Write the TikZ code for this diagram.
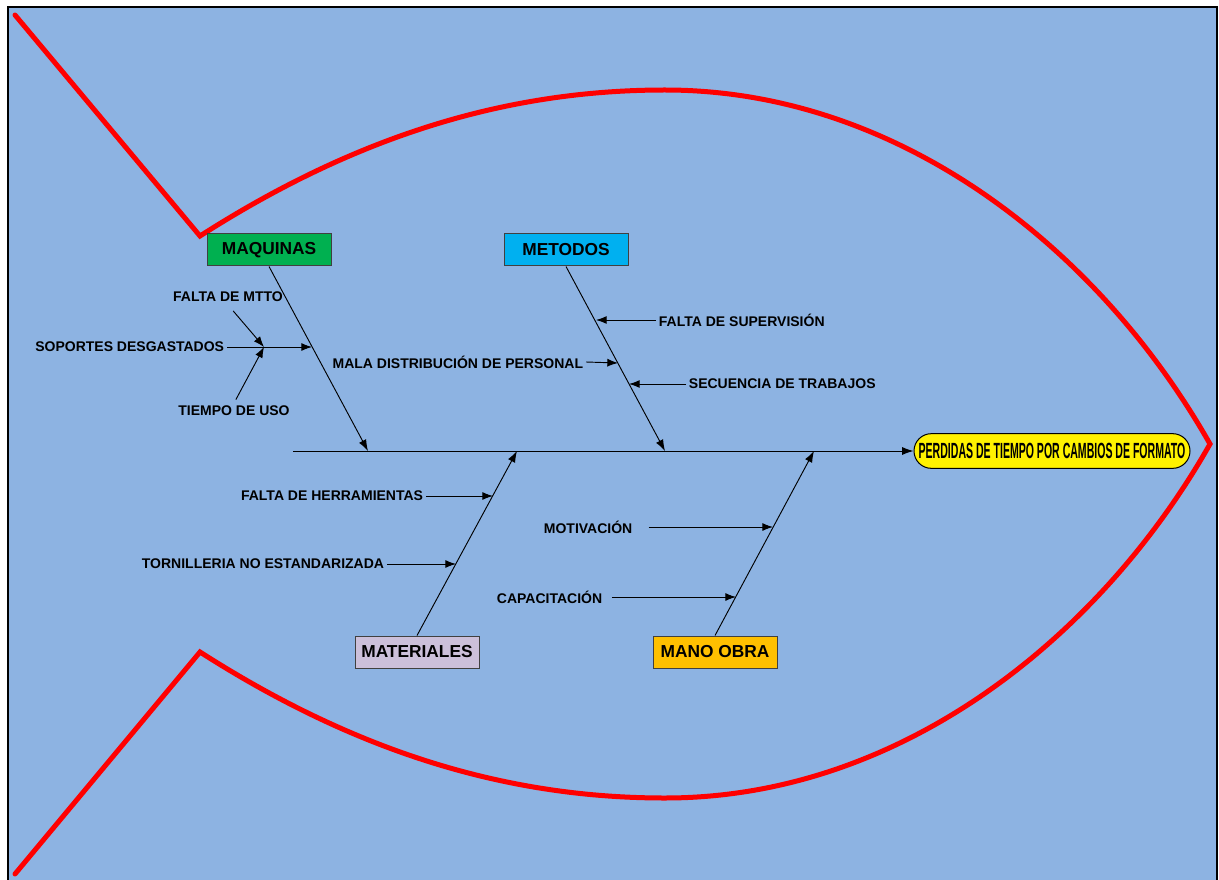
\documentclass[tikz,border=0pt]{standalone}
\usepackage{fontspec}
\setmainfont{Liberation Sans}
\usepackage{graphicx}
\usetikzlibrary{arrows.meta}
\definecolor{fondo}{HTML}{8DB3E2}
\definecolor{verde}{HTML}{00B050}
\definecolor{celeste}{HTML}{00B0F0}
\definecolor{lila}{HTML}{CCC0DA}
\definecolor{naranja}{HTML}{FFC000}
\tikzset{
  categoria/.style={draw=black!75, line width=0.75pt, minimum width=93pt, minimum height=24pt,
    inner sep=0pt, font=\fontsize{13pt}{15pt}\selectfont\bfseries},
  causa/.style={inner sep=2pt, font=\fontsize{10.5pt}{12pt}\selectfont\bfseries},
  flecha/.style={-{Latex[length=8pt,width=6pt]}, line width=0.7pt},
  espina/.style={-{Latex[length=8.5pt,width=6pt]}, line width=0.7pt},
}

\begin{document}
\begin{tikzpicture}[x=0.75pt,y=-0.75pt]
\clip (0,0) rectangle (1219,880);
\draw[line width=2pt,fill=fondo] (8,7) rectangle (1217,900);
% pez
\draw[red,line width=3.75pt,line cap=round] (15,15) -- (200,236)
  .. controls (350,140) and (500,90) .. (665,90)
  .. controls (900,90) and (1100,250) .. (1210,444)
  .. controls (1100,638) and (900,798) .. (665,798)
  .. controls (500,798) and (350,748) .. (200,652) -- (15,874);

% efecto y espina central
\node[draw, fill=yellow, line width=0.75pt, rounded corners=13pt, minimum width=207pt,
  minimum height=26pt, inner sep=0pt] (efecto) at (1052,451)
  {\resizebox{200pt}{11.5pt}{\bfseries PERDIDAS DE TIEMPO POR CAMBIOS DE FORMATO}};
\coordinate (cola) at (293,451);
\draw[espina] (cola) -- (efecto.west);

% categorias
\node[categoria,fill=verde] (maq) at (269,250) {MAQUINAS};
\node[categoria,fill=celeste] (met) at (566,250) {METODOS};
\node[categoria,fill=lila] (mat) at (417,652) {MATERIALES};
\node[categoria,fill=naranja] (mo) at (715,652) {MANO OBRA};

\coordinate (e1) at (368,451);
\coordinate (e2) at (665,451);
\coordinate (e3) at (517,451);
\coordinate (e4) at (814,451);
\draw[espina] (maq.south) -- (e1);
\draw[espina] (met.south) -- (e2);
\draw[espina] (mat.north) -- (e3);
\draw[espina] (mo.north) -- (e4);

% causas de maquinas
\coordinate (m1) at (312,347);
\coordinate (j) at (264,347);
\node[causa,anchor=east] (sop) at (227,347) {SOPORTES DESGASTADOS};
\node[causa] (mtto) at (228,297) {FALTA DE MTTO};
\node[causa] (uso) at (234,411) {TIEMPO DE USO};
\draw[flecha] (sop.east) -- (m1);
\draw[flecha,shorten <=6pt] (mtto.south) -- (j);
\draw[flecha,shorten <=3pt] (uso.north) -- (j);

% causas de metodos
\coordinate (t1) at (618,363);
\coordinate (t2) at (596,320);
\coordinate (t3) at (629,384);
\node[causa,anchor=east] (mala) at (586,362) {MALA DISTRIBUCIÓN DE PERSONAL};
\node[causa,anchor=west] (sup) at (656,320) {FALTA DE SUPERVISIÓN};
\node[causa,anchor=west] (sec) at (686,384) {SECUENCIA DE TRABAJOS};
\draw[flecha] (mala.east) -- (t1);
\draw[flecha] (sup.west) -- (t2);
\draw[flecha] (sec.west) -- (t3);

% causas de materiales
\coordinate (r1) at (493,496);
\coordinate (r2) at (456,564);
\node[causa,anchor=east] (herr) at (426,496) {FALTA DE HERRAMIENTAS};
\node[causa,anchor=east] (torn) at (387,564) {TORNILLERIA NO ESTANDARIZADA};
\draw[flecha] (herr.east) -- (r1);
\draw[flecha] (torn.east) -- (r2);

% causas de mano obra
\coordinate (o1) at (773,527);
\coordinate (o2) at (736,597);
\node[causa,anchor=west] (mot) at (541,527) {MOTIVACIÓN};
\node[causa,anchor=west] (cap) at (494,597) {CAPACITACIÓN};
\draw[flecha,shorten <=10pt] (mot.east) -- (o1);
\draw[flecha,shorten <=5pt] (cap.east) -- (o2);
\end{tikzpicture}
\end{document}
